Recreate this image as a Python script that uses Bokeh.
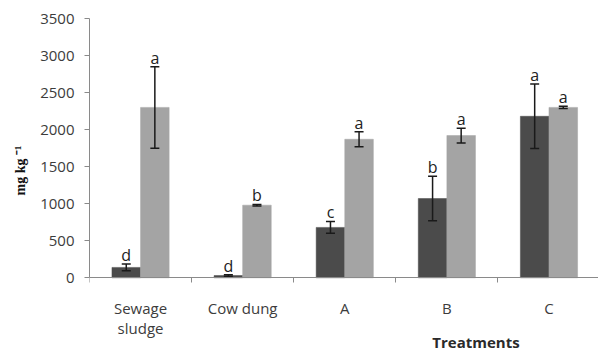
import numpy as np
from bokeh.plotting import figure
from bokeh.models import (ColumnDataSource, FixedTicker, Whisker, TeeHead, Title, Label, Range1d)
from bokeh.core.properties import value
from bokeh.embed import file_html
from bokeh.resources import INLINE

categories = ["Sewage\nsludge", "Cow dung", "A", "B", "C"]
series1 = [140, 30, 680, 1070, 2180]
series1_err = [45, 10, 80, 300, 435]
series1_sig = ["d", "d", "c", "b", "a"]
series2 = [2300, 980, 1870, 1920, 2300]
series2_err = [550, 10, 100, 100, 15]
series2_sig = ["a", "b", "a", "a", "a"]
y_ticks = [0, 500, 1000, 1500, 2000, 2500, 3000, 3500]

FONT = "Open Sans"
DARK = "#4b4b4b"
LIGHT = "#a4a4a4"
AXIS = "#8a8a8a"

n = len(categories)
xc = np.arange(n) + 0.5
off = 0.14
bw = 0.28

p = figure(width=598, height=353, output_backend="svg", toolbar_location=None,
           x_range=Range1d(0, 4.985), y_range=Range1d(-1022, 3500),
           min_border_left=87, min_border_right=0, min_border_top=18,
           min_border_bottom=0)
p.outline_line_color = None
p.xgrid.visible = False
p.ygrid.visible = False
p.background_fill_color = "white"
p.border_fill_color = "white"

def make_src(vals, errs, sig, shift):
    return ColumnDataSource(dict(
        x=xc + shift, top=vals,
        upper=[v + e for v, e in zip(vals, errs)],
        lower=[v - e for v, e in zip(vals, errs)],
        sig=sig))

s1 = make_src(series1, series1_err, series1_sig, -off)
s2 = make_src(series2, series2_err, series2_sig, off)

for src, col in ((s1, DARK), (s2, LIGHT)):
    p.vbar(x="x", top="top", bottom=0, width=bw, source=src,
           fill_color=col, line_color=col, line_width=0.5)
    w = Whisker(base="x", upper="upper", lower="lower", source=src, level="overlay",
                line_color="#1a1a1a", line_width=1.5,
                upper_head=TeeHead(size=9, line_color="#1a1a1a", line_width=1.5),
                lower_head=TeeHead(size=9, line_color="#1a1a1a", line_width=1.5))
    p.add_layout(w)
    p.text(x="x", y="upper", text="sig", source=src, text_align="center",
           text_baseline="alphabetic", y_offset=-9, text_font=value(FONT),
           text_font_size="16px", text_color="#222222")

# x axis drawn at y = 0
p.xaxis.fixed_location = 0
p.xaxis.ticker = FixedTicker(ticks=list(xc), minor_ticks=list(range(n + 1)))
p.xaxis.major_label_overrides = {float(x): c for x, c in zip(xc, categories)}
p.xaxis.major_tick_line_color = None
p.xaxis.major_tick_out = 0
p.xaxis.minor_tick_line_color = AXIS
p.xaxis.minor_tick_out = 5
p.xaxis.minor_tick_in = 0
p.xaxis.axis_line_color = AXIS
p.xaxis.major_label_standoff = 15
p.xaxis.major_label_text_font = FONT
p.xaxis.major_label_text_font_size = "15px"
p.xaxis.major_label_text_line_height = 1.0
p.xaxis.major_label_text_color = "#3c3c3c"

# y axis
p.yaxis.bounds = (0, 3500)
p.yaxis.ticker = FixedTicker(ticks=y_ticks, minor_ticks=[])
p.yaxis.axis_line_color = AXIS
p.yaxis.major_tick_line_color = AXIS
p.yaxis.major_tick_out = 5
p.yaxis.major_tick_in = 0
p.yaxis.minor_tick_line_color = None
p.yaxis.major_label_standoff = 10
p.yaxis.major_label_text_font = FONT
p.yaxis.major_label_text_font_size = "15px"
p.yaxis.major_label_text_color = "#3c3c3c"

p.add_layout(Title(text="mg kg \u207b\u00b9", align="left", offset=158,
                   text_font="Liberation Serif", text_font_style="bold",
                   text_font_size="14px", text_color="#111111", standoff=20), "left")
p.add_layout(Label(x=3.785, y=-873, text="Treatments",
                   text_align="center", text_baseline="middle",
                   text_font=FONT, text_font_style="bold",
                   text_font_size="15px", text_color="#2a2a2a"))

open("out.html", "w").write(file_html(p, INLINE))
